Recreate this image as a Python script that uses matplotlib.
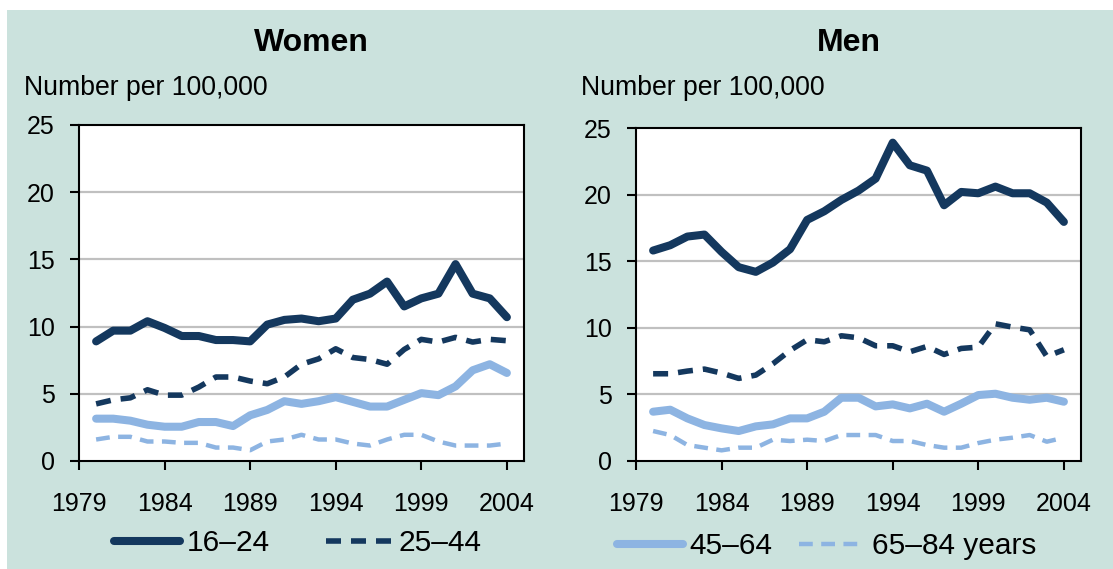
import matplotlib
matplotlib.use("Agg")
import matplotlib.pyplot as plt
from matplotlib.patches import Rectangle
from matplotlib.lines import Line2D

plt.rcParams['font.family'] = ['Liberation Sans', 'DejaVu Sans']

years = list(range(1980, 2005))

women_16_24 = [8.9, 9.7, 9.7, 10.4, 9.9, 9.3, 9.3, 9.0, 9.0, 8.9, 10.15, 10.5, 10.6, 10.4, 10.6,
               12.0, 12.45, 13.35, 11.5, 12.1, 12.45, 14.65, 12.45, 12.1, 10.7]
women_25_44 = [4.25, 4.55, 4.7, 5.3, 4.9, 4.9, 5.5, 6.25, 6.25, 5.95, 5.75, 6.25, 7.2, 7.6, 8.35,
               7.7, 7.55, 7.2, 8.3, 9.05, 8.85, 9.2, 8.85, 9.05, 8.95]
women_45_64 = [3.15, 3.15, 3.0, 2.7, 2.55, 2.55, 2.9, 2.9, 2.6, 3.4, 3.8, 4.45, 4.25, 4.45, 4.75,
               4.4, 4.05, 4.05, 4.55, 5.05, 4.9, 5.55, 6.75, 7.2, 6.55]
women_65_84 = [1.6, 1.8, 1.8, 1.45, 1.45, 1.35, 1.35, 1.0, 1.0, 0.8, 1.45, 1.6, 1.95, 1.6, 1.6,
               1.3, 1.15, 1.6, 1.95, 1.95, 1.45, 1.15, 1.15, 1.15, 1.3]

men_16_24 = [15.8, 16.2, 16.85, 17.0, 15.7, 14.55, 14.2, 14.9, 15.9, 18.1, 18.75, 19.6, 20.3, 21.2, 23.9,
             22.2, 21.8, 19.2, 20.2, 20.1, 20.6, 20.1, 20.1, 19.4, 17.95]
men_25_44 = [6.55, 6.55, 6.75, 6.9, 6.6, 6.2, 6.45, 7.3, 8.3, 9.1, 8.95, 9.4, 9.25, 8.65, 8.65,
             8.2, 8.6, 8.0, 8.45, 8.55, 10.3, 10.05, 9.85, 7.85, 8.35]
men_45_64 = [3.7, 3.85, 3.2, 2.7, 2.45, 2.25, 2.6, 2.75, 3.2, 3.2, 3.7, 4.75, 4.75, 4.1, 4.25,
             3.95, 4.3, 3.7, 4.3, 4.95, 5.05, 4.75, 4.6, 4.75, 4.45]
men_65_84 = [2.25, 1.95, 1.2, 1.0, 0.8, 1.0, 1.0, 1.6, 1.5, 1.6, 1.5, 1.95, 1.95, 1.95, 1.5,
             1.5, 1.2, 1.0, 1.0, 1.35, 1.6, 1.75, 1.95, 1.45, 1.75]

series_labels = ['16\u201324', '25\u201344', '45\u201364', '65\u201384 years']
xtick_years = [1979, 1984, 1989, 1994, 1999, 2004]
yticks = [0, 5, 10, 15, 20, 25]

DARK = '#14385E'
LIGHT = '#8DB4E2'
BG = '#CBE2DD'

W, H = 1113, 569
fig = plt.figure(figsize=(W / 100, H / 100), dpi=100)
fig.patch.set_facecolor('white')
fig.patches.append(Rectangle((7 / W, 0), 1 - 7 / W, 1 - 10 / H, transform=fig.transFigure,
                             facecolor=BG, edgecolor='none', zorder=-10))

styles = [
    dict(color=DARK, lw=5.8, ls='-', solid_capstyle='round', solid_joinstyle='round'),
    dict(color=DARK, lw=4.0, ls=(0, (2.7, 1.8)), dash_capstyle='butt', dash_joinstyle='round'),
    dict(color=LIGHT, lw=5.8, ls='-', solid_capstyle='round', solid_joinstyle='round'),
    dict(color=LIGHT, lw=3.2, ls=(0, (3.1, 1.9)), dash_capstyle='butt', dash_joinstyle='round'),
]


def px_axes(l, t, r, b):
    return fig.add_axes([l / W, 1 - b / H, (r - l) / W, (b - t) / H])


panels = [
    (px_axes(79, 125, 524, 461), 'Women', [women_16_24, women_25_44, women_45_64, women_65_84], 311, 24),
    (px_axes(636, 128, 1081, 461), 'Men', [men_16_24, men_25_44, men_45_64, men_65_84], 849, 581),
]

for ax, title, data, tx, nx in panels:
    ax.set_facecolor('white')
    for vals, st in zip(data, styles):
        ax.plot(years, vals, **st, zorder=3)
    ax.set_xlim(1979, 2005)
    ax.set_ylim(0, 25)
    ax.set_xticks(xtick_years)
    ax.set_yticks(yticks)
    for y in yticks[1:-1]:
        ax.axhline(y, color='#C0C0C0', lw=1.6, zorder=1)
    for s in ax.spines.values():
        s.set_linewidth(1.5)
        s.set_color('black')
    ax.tick_params(axis='both', direction='out', length=6.5, width=1.5, labelsize=18, colors='black')
    ax.tick_params(axis='x', pad=16)
    ax.tick_params(axis='y', pad=11)
    fig.text(tx / W, 1 - 43 / H, title, ha='center', va='center', fontsize=23, fontweight='bold')
    fig.text(nx / W, 1 - 88 / H, 'Number per 100,000', ha='left', va='center', fontsize=19.2)

handles = [Line2D([], [], **st) for st in styles]

leg_kw = dict(loc='center left', frameon=False, fontsize=21.5, handlelength=2.2,
              handletextpad=0.23, borderpad=0, borderaxespad=0, ncol=2)
fig.legend(handles[:2], series_labels[:2], bbox_to_anchor=(114 / W, 1 - 543 / H),
           columnspacing=1.9, **leg_kw)
fig.legend(handles[2:], series_labels[2:], bbox_to_anchor=(617 / W, 1 - 546 / H),
           columnspacing=0.9, **leg_kw)

fig.savefig('out.png', dpi=100, facecolor=fig.get_facecolor())
